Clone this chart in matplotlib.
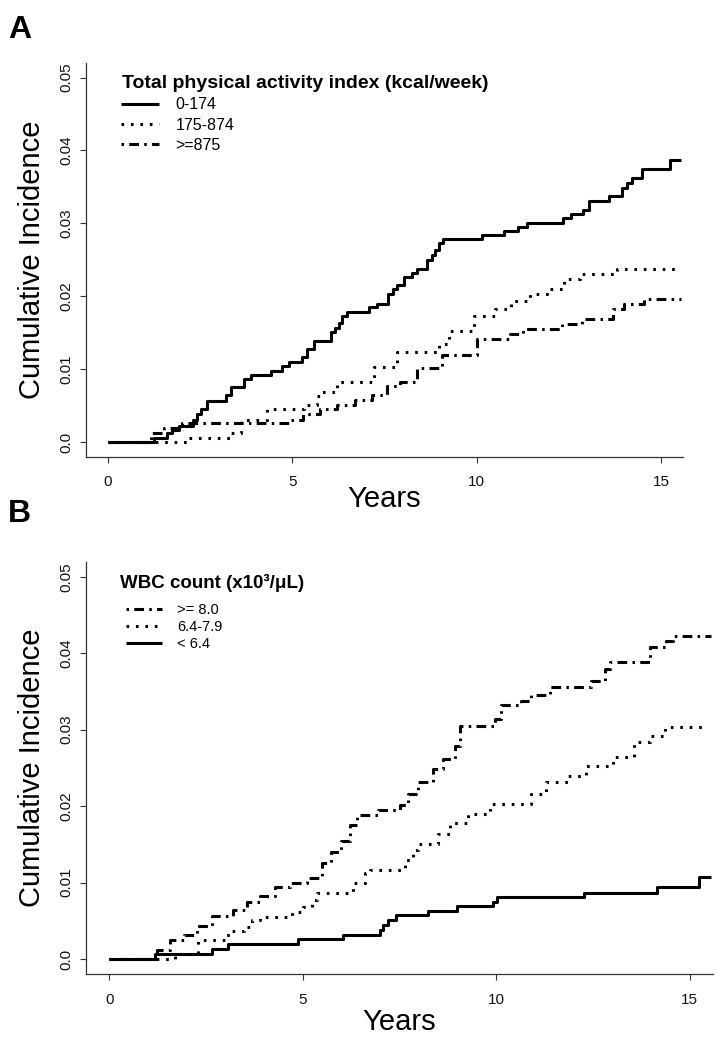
import matplotlib
matplotlib.use('Agg')
import matplotlib.pyplot as plt

plt.rcParams['font.family'] = ['Liberation Sans', 'DejaVu Sans']
plt.rcParams['lines.scale_dashes'] = False

# ---------------------------------------------------------------------------
# Data (step curves: time in years, cumulative incidence)
# ---------------------------------------------------------------------------
FOLLOWUP_END = 15.55

# Panel A: total physical activity index (kcal/week)
A_LOW_T = [0, 1.25, 1.61, 1.74, 1.93, 2.29, 2.42, 2.51, 2.69, 3.19, 3.33, 3.70,
           3.87, 4.43, 4.73, 4.91, 5.27, 5.40, 5.58, 6.04, 6.17, 6.26, 6.35,
           6.49, 7.07, 7.30, 7.59, 7.73, 7.84, 8.02, 8.25, 8.38, 8.65, 8.79,
           8.88, 8.97, 9.09, 10.14, 10.75, 11.13, 11.36, 12.35, 12.55, 12.89,
           13.06, 13.58, 13.95, 14.07, 14.21, 14.48, 15.25]
A_LOW_CI = [0, 0.0006, 0.0012, 0.0017, 0.0022, 0.0030, 0.0039, 0.0046, 0.0057,
            0.0064, 0.0075, 0.0086, 0.0092, 0.0098, 0.0104, 0.0110, 0.0117,
            0.0128, 0.0139, 0.0151, 0.0157, 0.0163, 0.0173, 0.0179, 0.0185,
            0.0190, 0.0203, 0.0210, 0.0215, 0.0226, 0.0232, 0.0237, 0.0250,
            0.0256, 0.0264, 0.0273, 0.0278, 0.0284, 0.0290, 0.0295, 0.0301,
            0.0307, 0.0313, 0.0319, 0.0331, 0.0337, 0.0349, 0.0355, 0.0362,
            0.0374, 0.0387]

A_MID_T = [0, 2.20, 3.33, 3.60, 4.32, 5.31, 5.67, 5.81, 6.22, 7.21, 7.84, 8.97,
           9.24, 9.92, 10.51, 10.92, 11.46, 11.91, 12.36, 12.81, 13.80]
A_MID_CI = [0, 0.0006, 0.0013, 0.0030, 0.0045, 0.0051, 0.0063, 0.0069, 0.0082,
            0.0103, 0.0123, 0.0135, 0.0153, 0.0173, 0.0183, 0.0194, 0.0203,
            0.0210, 0.0224, 0.0230, 0.0237]

A_HIGH_T = [0, 1.16, 1.53, 2.00, 4.90, 5.30, 5.76, 6.22, 6.71, 7.16, 7.57, 7.93,
            8.38, 9.06, 10.01, 10.91, 11.27, 12.31, 12.86, 13.71, 13.99, 14.53]
A_HIGH_CI = [0, 0.0013, 0.0019, 0.0026, 0.0031, 0.0038, 0.0045, 0.0051, 0.0058,
             0.0064, 0.0077, 0.0083, 0.0101, 0.0120, 0.0142, 0.0148, 0.0155,
             0.0162, 0.0169, 0.0183, 0.0189, 0.0196]

A_LABELS = ['0-174', '175-874', '>=875']
A_TITLE = 'Total physical activity index (kcal/week)'

# Panel B: WBC count (x10^3/uL)
B_HIGH_T = [0, 1.23, 1.57, 1.92, 2.26, 2.65, 3.21, 3.55, 3.90, 4.28, 4.67, 5.10,
            5.49, 5.74, 6.00, 6.22, 6.39, 6.95, 7.51, 7.73, 7.98, 8.37, 8.63,
            8.93, 9.06, 9.96, 10.13, 10.65, 10.91, 11.38, 12.46, 12.80, 12.93,
            13.96, 14.39, 14.56]
B_HIGH_CI = [0, 0.0012, 0.0025, 0.0031, 0.0043, 0.0056, 0.0064, 0.0075, 0.0082,
             0.0094, 0.0100, 0.0106, 0.0126, 0.0140, 0.0155, 0.0175, 0.0188,
             0.0195, 0.0201, 0.0216, 0.0231, 0.0249, 0.0262, 0.0279, 0.0305,
             0.0314, 0.0332, 0.0338, 0.0345, 0.0356, 0.0364, 0.0380, 0.0389,
             0.0408, 0.0416, 0.0422]

B_MID_T = [0, 1.70, 2.30, 2.99, 3.17, 3.47, 3.68, 3.90, 4.71, 5.01, 5.23, 5.36,
           6.30, 6.61, 6.74, 7.65, 7.86, 7.98, 8.50, 8.80, 9.27, 9.83, 10.91,
           11.29, 11.85, 12.33, 13.01, 13.57, 13.96, 14.35]
B_MID_CI = [0, 0.0006, 0.0025, 0.0031, 0.0036, 0.0042, 0.0051, 0.0055, 0.0062,
            0.0068, 0.0077, 0.0086, 0.0100, 0.0112, 0.0117, 0.0129, 0.0142,
            0.0151, 0.0164, 0.0178, 0.0190, 0.0203, 0.0216, 0.0231, 0.0240,
            0.0253, 0.0264, 0.0284, 0.0292, 0.0303]
B_MID_END = 15.45

B_LOW_T = [0, 1.19, 2.65, 3.08, 4.87, 6.03, 7.00, 7.08, 7.21, 7.41, 8.24, 8.99,
           9.92, 10.03, 12.27, 14.16, 15.24]
B_LOW_CI = [0, 0.0007, 0.0013, 0.0019, 0.0026, 0.0032, 0.0038, 0.0044, 0.0051,
            0.0057, 0.0063, 0.0069, 0.0075, 0.0081, 0.0087, 0.0094, 0.0107]

B_LABELS = ['>= 8.0', '6.4-7.9', '< 6.4']
B_TITLE = 'WBC count (x10\u00b3/\u03bcL)'

Y_TICKS = [0.0, 0.01, 0.02, 0.03, 0.04, 0.05]
Y_TICK_LABELS = ['0.0', '0.01', '0.02', '0.03', '0.04', '0.05']
X_TICKS = [0, 5, 10, 15]

# ---------------------------------------------------------------------------
# Styles
# ---------------------------------------------------------------------------
LW = 2.2
SOLID = '-'
DOTTED = (0, (1.9, 4.9))
DASHDOT = (0, (1.8, 3.8, 7.0, 3.8))
INK = '#000000'
AXIS_INK = '#333333'

W, H = 726, 1045


def _steps(times, values, end):
    return list(times) + [end], list(values) + [values[-1]]


def _draw_curve(ax, times, values, end, style, label):
    t, v = _steps(times, values, end)
    ax.step(t, v, where='post', color=INK, linewidth=LW, linestyle=style,
            dash_capstyle='butt', solid_capstyle='butt', label=label)


def _style_axes(ax):
    ax.set_xlim(-0.6, 15.6)
    ax.set_ylim(-0.002, 0.052)
    for side in ('top', 'right'):
        ax.spines[side].set_visible(False)
    for side in ('left', 'bottom'):
        ax.spines[side].set_color(AXIS_INK)
        ax.spines[side].set_linewidth(0.9)
    ax.set_xticks(X_TICKS)
    ax.set_xticklabels([str(x) for x in X_TICKS])
    ax.set_yticks(Y_TICKS)
    ax.set_yticklabels(Y_TICK_LABELS, rotation=90, va='center')
    ax.tick_params(axis='both', direction='out', length=4.3, width=0.8,
                   color=AXIS_INK, labelsize=11, labelcolor='#111111')
    ax.tick_params(axis='x', pad=9)
    ax.tick_params(axis='y', pad=5)


def _label_axes(ax, left, right, top, bottom, xlabel_y, ylabel_x):
    ax.set_xlabel('Years', fontsize=21, va='center')
    ax.set_ylabel('Cumulative Incidence', fontsize=21, va='center')
    ax.xaxis.set_label_coords(0.5, (bottom - xlabel_y) / (bottom - top))
    ax.yaxis.set_label_coords((ylabel_x - left) / (right - left), 0.5)


def _axes_rect(left, right, top, bottom):
    return [left / W, 1 - bottom / H, (right - left) / W, (bottom - top) / H]


fig = plt.figure(figsize=(W / 100, H / 100), dpi=100)
fig.patch.set_facecolor('white')

# ---------------------------------------------------------------------------
# Panel A
# ---------------------------------------------------------------------------
A_BOX = (86, 683, 63, 456.7)
axA = fig.add_axes(_axes_rect(*A_BOX))
_draw_curve(axA, A_LOW_T, A_LOW_CI, FOLLOWUP_END, SOLID, A_LABELS[0])
_draw_curve(axA, A_MID_T, A_MID_CI, FOLLOWUP_END, DOTTED, A_LABELS[1])
_draw_curve(axA, A_HIGH_T, A_HIGH_CI, FOLLOWUP_END, DASHDOT, A_LABELS[2])
_style_axes(axA)
_label_axes(axA, *A_BOX, xlabel_y=499, ylabel_x=32)

axA.text((122 - 86) / 597, (456.7 - 83) / 393.7, A_TITLE,
         transform=axA.transAxes, fontsize=14, fontweight='bold',
         ha='left', va='center')
axA.legend(loc='center left', bbox_to_anchor=((121 - 86) / 597,
                                              (456.7 - 125) / 393.7),
           frameon=False, fontsize=11.5, handlelength=2.4, handletextpad=1.0,
           labelspacing=0.33, borderpad=0, borderaxespad=0)
fig.text(8 / W, 1 - 38 / H, 'A', fontsize=23, fontweight='bold', ha='left',
         va='baseline')

# ---------------------------------------------------------------------------
# Panel B
# ---------------------------------------------------------------------------
B_BOX = (86, 713, 561.5, 974.3)
axB = fig.add_axes(_axes_rect(*B_BOX))
_draw_curve(axB, B_HIGH_T, B_HIGH_CI, FOLLOWUP_END, DASHDOT, B_LABELS[0])
_draw_curve(axB, B_MID_T, B_MID_CI, B_MID_END, DOTTED, B_LABELS[1])
_draw_curve(axB, B_LOW_T, B_LOW_CI, FOLLOWUP_END, SOLID, B_LABELS[2])
_style_axes(axB)
_label_axes(axB, *B_BOX, xlabel_y=1022, ylabel_x=32)

axB.text((120 - 86) / 627, (974.3 - 583) / 412.8, B_TITLE,
         transform=axB.transAxes, fontsize=13.5, fontweight='bold',
         ha='left', va='center')
axB.legend(loc='center left', bbox_to_anchor=((126 - 86) / 627,
                                              (974.3 - 627) / 412.8),
           frameon=False, fontsize=10.5, handlelength=2.5, handletextpad=1.0,
           labelspacing=0.2, borderpad=0, borderaxespad=0)
fig.text(8 / W, 1 - 522 / H, 'B', fontsize=23, fontweight='bold', ha='left',
         va='baseline')

fig.savefig('out.png', dpi=100)
plt.close(fig)
